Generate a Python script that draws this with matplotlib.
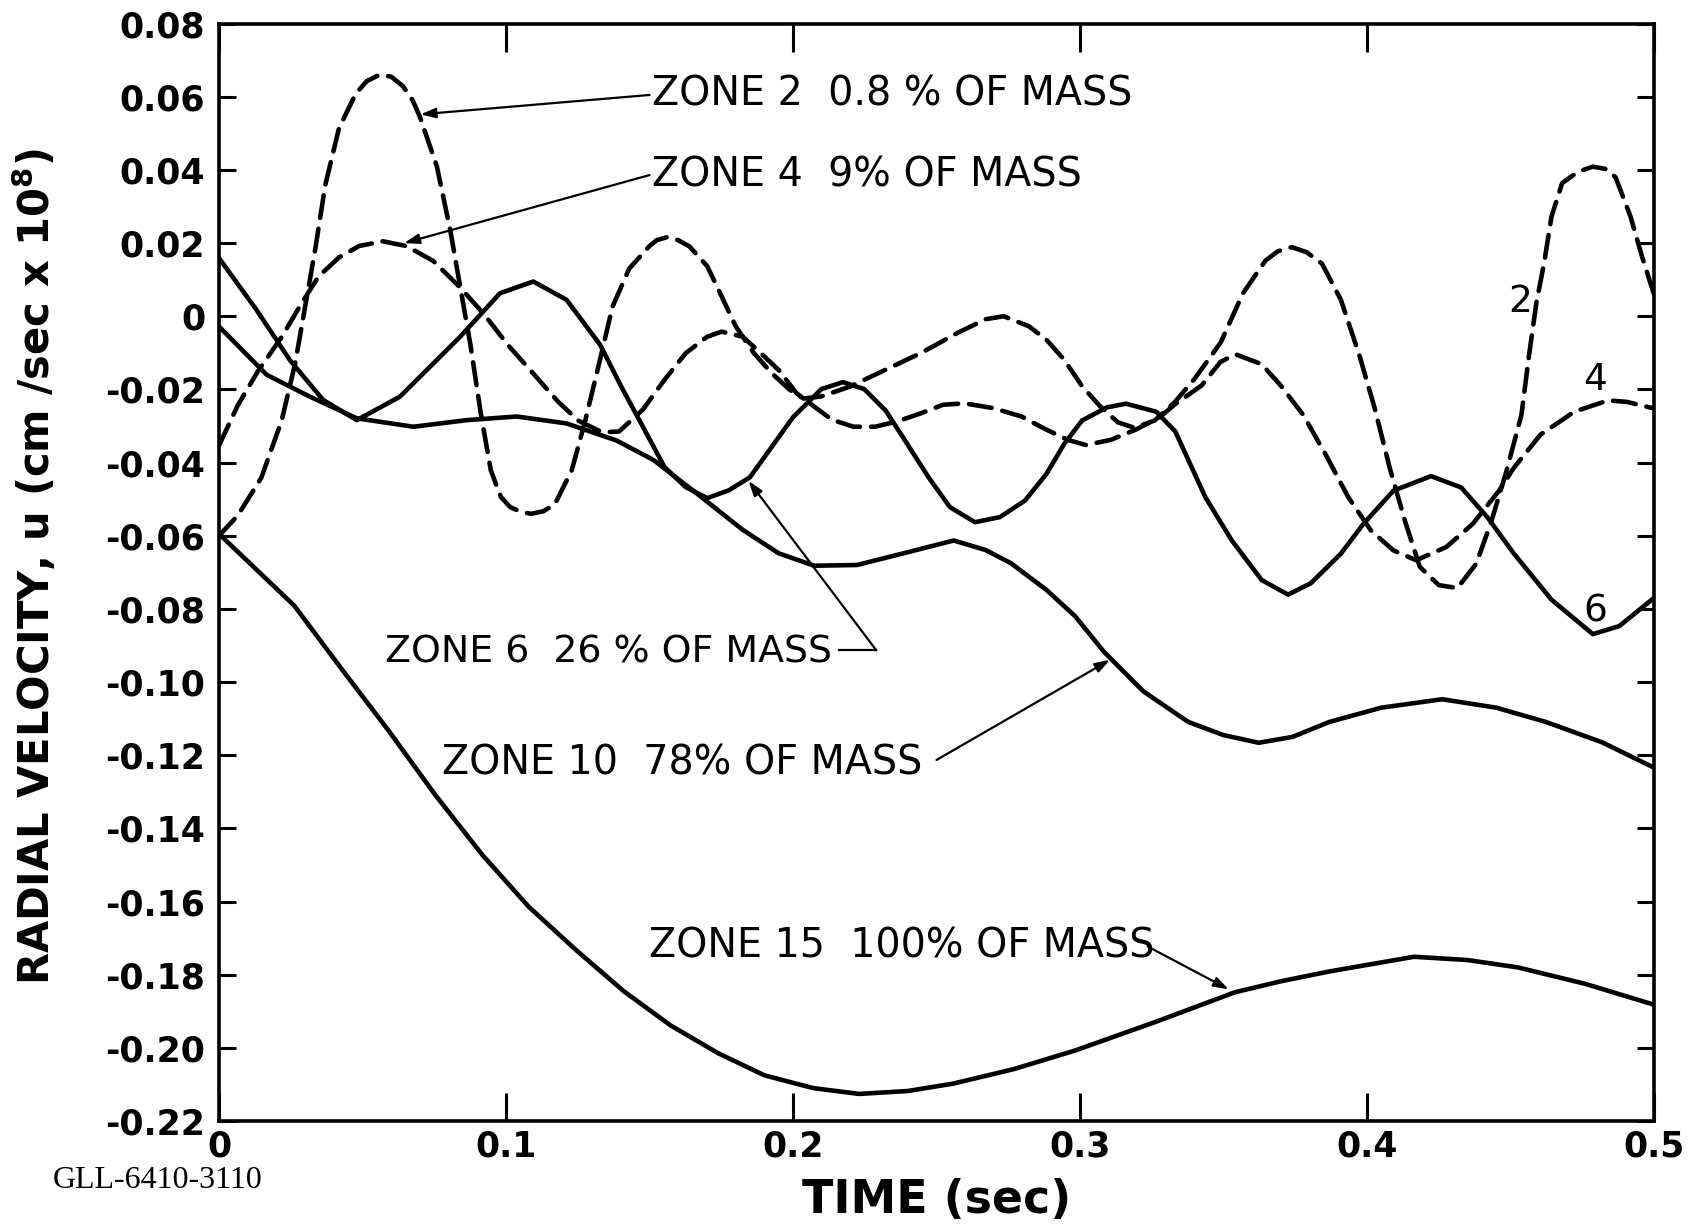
import matplotlib
matplotlib.use("Agg")
import matplotlib.pyplot as plt

# ---------------- data ----------------
x_ticks = [0, 0.1, 0.2, 0.3, 0.4, 0.5]
x_tick_labels = ["0", "0.1", "0.2", "0.3", "0.4", "0.5"]
y_ticks = [0.08, 0.06, 0.04, 0.02, 0, -0.02, -0.04, -0.06, -0.08, -0.10,
           -0.12, -0.14, -0.16, -0.18, -0.20, -0.22]
y_tick_labels = ["0.08", "0.06", "0.04", "0.02", "0", "-0.02", "-0.04", "-0.06",
                 "-0.08", "-0.10", "-0.12", "-0.14", "-0.16", "-0.18", "-0.20", "-0.22"]

zone2_t = [0.000, 0.0065, 0.0147, 0.0218, 0.0265, 0.030, 0.0335, 0.037, 0.0418, 0.0476,
           0.0515, 0.0559, 0.060, 0.0641, 0.0675, 0.070, 0.0759, 0.0806, 0.0841, 0.0876,
           0.0912, 0.0947, 0.0982, 0.1015, 0.1053, 0.1088, 0.113, 0.117, 0.1229, 0.1276,
           0.1324, 0.1371, 0.1429, 0.150, 0.1525, 0.156, 0.160, 0.1639, 0.1701, 0.1751,
           0.180, 0.1863, 0.1925, 0.1987, 0.2037, 0.2099, 0.2199, 0.2323, 0.2447, 0.2572,
           0.2671, 0.2734, 0.2821, 0.2883, 0.2945, 0.3007, 0.307, 0.3132, 0.319, 0.326,
           0.333, 0.340, 0.349, 0.3568, 0.3647, 0.369, 0.3738, 0.379, 0.3843, 0.3909,
           0.3974, 0.4027, 0.4079, 0.4132, 0.4184, 0.425, 0.4315, 0.4381, 0.4434, 0.4486,
           0.4538, 0.4564, 0.459, 0.4617, 0.4643, 0.468, 0.4735, 0.4787, 0.483, 0.4866,
           0.4918, 0.4958, 0.500]
zone2_v = [-0.060, -0.0545, -0.0442, -0.0286, -0.013, 0.0026, 0.0182, 0.0358, 0.0514, 0.0608,
           0.0643, 0.066, 0.0655, 0.0629, 0.059, 0.0545, 0.041, 0.0234, 0.0078, -0.0078,
           -0.0265, -0.0421, -0.0494, -0.0522, -0.0535, -0.054, -0.0533, -0.0514, -0.0421, -0.0286,
           -0.013, 0.0026, 0.013, 0.0192, 0.0208, 0.0216, 0.0208, 0.0191, 0.0137, 0.0055,
           -0.0027, -0.010, -0.0155, -0.020, -0.0225, -0.0219, -0.0192, -0.0146, -0.010, -0.0046,
           -0.0008, 0.000, -0.0027, -0.0064, -0.0119, -0.0191, -0.0246, -0.029, -0.0305, -0.0285,
           -0.0235, -0.017, -0.0072, 0.0063, 0.0153, 0.0178, 0.0189, 0.0175, 0.0144, 0.0045,
           -0.0108, -0.0252, -0.0414, -0.0559, -0.0685, -0.0735, -0.0743, -0.0676, -0.0559, -0.0423,
           -0.027, -0.011, 0.0036, 0.0145, 0.0273, 0.0364, 0.0395, 0.0409, 0.0403, 0.038,
           0.0273, 0.0164, 0.006]

zone4_t = [0.000, 0.0065, 0.0135, 0.0218, 0.0288, 0.0347, 0.0418, 0.0488, 0.0571, 0.0653,
           0.0747, 0.0841, 0.0924, 0.1006, 0.110, 0.1182, 0.1253, 0.1335, 0.1394, 0.1477,
           0.1552, 0.1626, 0.1701, 0.1751, 0.1825, 0.1888, 0.195, 0.2012, 0.2074, 0.2136,
           0.2211, 0.2286, 0.236, 0.2447, 0.2522, 0.2597, 0.2697, 0.2796, 0.2883, 0.2958,
           0.302, 0.3107, 0.3194, 0.3279, 0.3332, 0.3424, 0.3489, 0.3542, 0.3633, 0.3699,
           0.3778, 0.3856, 0.3935, 0.4014, 0.4092, 0.4171, 0.4276, 0.4368, 0.446, 0.4512,
           0.4604, 0.4722, 0.484, 0.4905, 0.500]
zone4_v = [-0.0353, -0.0244, -0.0151, -0.0057, 0.0036, 0.0109, 0.0161, 0.0192, 0.0205, 0.0192,
           0.0151, 0.0078, 0.0005, -0.0078, -0.0161, -0.0234, -0.0286, -0.0317, -0.0315, -0.0255,
           -0.0174, -0.0101, -0.0056, -0.0042, -0.0056, -0.0101, -0.0147, -0.021, -0.0247, -0.0283,
           -0.0302, -0.0302, -0.0288, -0.0265, -0.0242, -0.0238, -0.0251, -0.0274, -0.031, -0.0338,
           -0.0352, -0.0338, -0.031, -0.0275, -0.024, -0.0189, -0.0125, -0.0104, -0.0131, -0.0189,
           -0.027, -0.0378, -0.0495, -0.0586, -0.064, -0.0667, -0.0631, -0.0568, -0.0477, -0.0414,
           -0.0324, -0.0261, -0.023, -0.0234, -0.0252]

zone6_t = [0.000, 0.0131, 0.0247, 0.0363, 0.048, 0.063, 0.084, 0.0979, 0.1095, 0.1211,
           0.1328, 0.1402, 0.1477, 0.1552, 0.1626, 0.1701, 0.1776, 0.185, 0.1925, 0.200,
           0.2099, 0.2174, 0.2248, 0.2323, 0.2398, 0.2472, 0.2547, 0.2634, 0.2721, 0.2808,
           0.2883, 0.2945, 0.3007, 0.3094, 0.316, 0.3266, 0.3332, 0.3437, 0.3529, 0.3633,
           0.3725, 0.3804, 0.3909, 0.3987, 0.4092, 0.4223, 0.4328, 0.442, 0.4512, 0.4643,
           0.4787, 0.4879, 0.500]
zone6_v = [0.0159, 0.0017, -0.012, -0.0229, -0.0284, -0.022, -0.0056, 0.0063, 0.0095, 0.0045,
           -0.0078, -0.0193, -0.0302, -0.0412, -0.0467, -0.0497, -0.0476, -0.044, -0.0358, -0.0276,
           -0.0199, -0.018, -0.0199, -0.0258, -0.0349, -0.044, -0.0522, -0.0563, -0.0549, -0.0504,
           -0.0431, -0.0349, -0.0285, -0.0249, -0.0239, -0.0261, -0.0315, -0.0495, -0.0613, -0.0721,
           -0.0761, -0.073, -0.0649, -0.0568, -0.0477, -0.0437, -0.0468, -0.055, -0.0649, -0.0775,
           -0.0869, -0.0847, -0.077]

zone10_t = [0.000, 0.0166, 0.0317, 0.048, 0.0677, 0.0863, 0.1037, 0.1211, 0.1386, 0.1514,
            0.1664, 0.1825, 0.195, 0.2074, 0.2223, 0.2385, 0.256, 0.2671, 0.2759, 0.2883,
            0.2983, 0.3082, 0.322, 0.3377, 0.350, 0.3623, 0.374, 0.3869, 0.405, 0.4262,
            0.445, 0.4623, 0.482, 0.500]
zone10_v = [-0.0028, -0.016, -0.022, -0.0279, -0.0302, -0.0284, -0.0274, -0.0293, -0.034, -0.0393,
            -0.0484, -0.0584, -0.0648, -0.0682, -0.068, -0.0648, -0.0613, -0.0639, -0.0675, -0.0748,
            -0.082, -0.0916, -0.1025, -0.1109, -0.1145, -0.1166, -0.115, -0.1109, -0.107, -0.1047,
            -0.107, -0.1109, -0.1165, -0.1234]

zone15_t = [0.000, 0.0262, 0.0425, 0.059, 0.075, 0.0918, 0.108, 0.1246, 0.141, 0.1574,
            0.174, 0.190, 0.207, 0.223, 0.240, 0.2557, 0.277, 0.2984, 0.326, 0.354,
            0.370, 0.387, 0.4164, 0.435, 0.4525, 0.476, 0.500]
zone15_v = [-0.0595, -0.0791, -0.0962, -0.1132, -0.1305, -0.1473, -0.1615, -0.1734, -0.1845, -0.1939,
            -0.2015, -0.2075, -0.211, -0.2126, -0.2118, -0.2098, -0.2058, -0.2007, -0.193, -0.1848,
            -0.1818, -0.1791, -0.1751, -0.176, -0.178, -0.1825, -0.1882]

labels = ["ZONE 2  0.8 % OF MASS", "ZONE 4  9% OF MASS", "ZONE 6  26 % OF MASS",
          "ZONE 10  78% OF MASS", "ZONE 15  100% OF MASS"]
x_label = "TIME (sec)"
y_label = r"RADIAL VELOCITY, u (cm /sec x 10$^{\mathbf{8}}$)"
stamp = "GLL-6410-3110"

# ---------------- figure ----------------
fig = plt.figure(figsize=(16.9, 12.25), dpi=100)
ax = fig.add_axes([0.1296, 0.0849, 0.8491, 0.8958])

lw = 3.3
dash = (5.0, 2.4)
ax.plot(zone2_t, zone2_v, color="black", lw=lw, dashes=dash, dash_capstyle="round",
        dash_joinstyle="round")
ax.plot(zone4_t, zone4_v, color="black", lw=lw, dashes=dash, dash_capstyle="round",
        dash_joinstyle="round")
ax.plot(zone6_t, zone6_v, color="black", lw=lw, solid_joinstyle="round")
ax.plot(zone10_t, zone10_v, color="black", lw=lw, solid_joinstyle="round")
ax.plot(zone15_t, zone15_v, color="black", lw=lw, solid_joinstyle="round")

ax.set_xlim(0, 0.5)
ax.set_ylim(-0.22, 0.08)
ax.set_xticks(x_ticks)
ax.set_xticklabels(x_tick_labels)
ax.set_yticks(y_ticks)
ax.set_yticklabels(y_tick_labels)

for s in ax.spines.values():
    s.set_linewidth(2.6)

ax.tick_params(axis="x", direction="in", length=20, width=2.2, top=True, bottom=True,
               labelsize=25, pad=6)
ax.tick_params(axis="y", direction="in", length=12, width=2.2, left=True, right=True,
               labelsize=25, pad=10)
for lab in ax.get_xticklabels() + ax.get_yticklabels():
    lab.set_fontweight("bold")

ax.set_xlabel(x_label, fontsize=33, fontweight="bold")
ax.xaxis.set_label_coords(0.5, -0.052)
ax.set_ylabel(y_label, fontsize=30, fontweight="bold")
ax.yaxis.set_label_coords(-0.1115, 0.505)

txt_kw = dict(fontsize=28.5, va="center", ha="left", color="black")
arrow_kw = dict(arrowstyle="-|>,head_length=0.9,head_width=0.3", color="black", lw=1.6,
                shrinkA=0, shrinkB=0)

# Zone 2
ax.annotate("", xy=(0.0702, 0.0552), xytext=(0.1500, 0.0605), arrowprops=arrow_kw)
ax.text(0.1509, 0.0605, labels[0], **txt_kw)
# Zone 4
ax.annotate("", xy=(0.0645, 0.0200), xytext=(0.1500, 0.0386), arrowprops=arrow_kw)
ax.text(0.1509, 0.0386, labels[1], **txt_kw)
# Zone 6
ax.text(0.0578, -0.0918, labels[2], fontsize=27.3, va="center", ha="left", color="black")
ax.plot([0.2160, 0.2290], [-0.0913, -0.0913], color="black", lw=1.6)
ax.annotate("", xy=(0.1845, -0.0450), xytext=(0.2290, -0.0913), arrowprops=arrow_kw)
# Zone 10
ax.text(0.0777, -0.1222, labels[3], **txt_kw)
ax.annotate("", xy=(0.3105, -0.0939), xytext=(0.2500, -0.1213), arrowprops=arrow_kw)
# Zone 15
ax.text(0.1498, -0.1723, labels[4], **txt_kw)
ax.annotate("", xy=(0.3518, -0.1840), xytext=(0.3236, -0.1723), arrowprops=arrow_kw)

# curve end numbers
ax.text(0.4532, 0.0040, "2", fontsize=27, va="center", ha="center")
ax.text(0.4795, -0.0173, "4", fontsize=27, va="center", ha="center")
ax.text(0.4795, -0.0806, "6", fontsize=27, va="center", ha="center")

fig.text(0.031, 0.036, stamp, fontsize=23, family="Liberation Serif", va="center", ha="left")

fig.savefig("out.png", dpi=100)
